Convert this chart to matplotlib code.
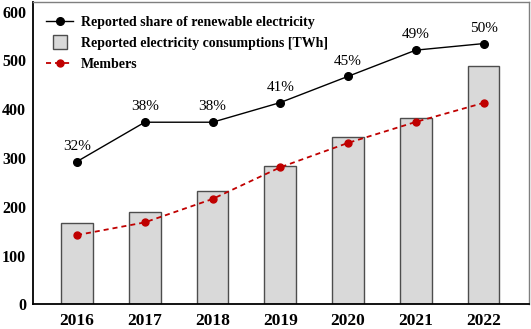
import matplotlib
matplotlib.use("Agg")
import matplotlib.pyplot as plt
from matplotlib.lines import Line2D
import numpy as np

years = ["2016", "2017", "2018", "2019", "2020", "2021", "2022"]
consumption_twh = [167, 190, 232, 284, 344, 383, 489]
renewable_share = [32, 38, 38, 41, 45, 49, 50]
members = [142, 168, 216, 281, 331, 374, 413]

plt.rcParams["font.family"] = ["Liberation Serif", "DejaVu Serif"]

fig = plt.figure(figsize=(5.31, 3.29), dpi=100)
ax = fig.add_axes([0.0621, 0.075, 0.934, 0.919])
x = np.arange(len(years))

# consumption bars
ax.bar(x, consumption_twh, width=0.47, color="#d9d9d9", edgecolor="#4d4d4d",
       linewidth=1.0, zorder=2)

# members, red dashed
red_dash = (0, (2.8, 2.2))
ax.plot(x, members, color="#c00000", linestyle=red_dash, linewidth=1.3,
        marker="o", markersize=5, zorder=4)

ax.set_xlim(-0.65, 6.67)
ax.set_ylim(0, 620)
ax.set_yticks(range(0, 601, 100))
ax.set_xticks(x)
ax.set_xticklabels(years)
ax.tick_params(axis="both", length=0)
ax.tick_params(axis="y", pad=5, labelsize=11.5)
ax.tick_params(axis="x", pad=6, labelsize=12.5)
for lab in ax.get_xticklabels() + ax.get_yticklabels():
    lab.set_fontweight("bold")

for side in ["top", "right"]:
    ax.spines[side].set_color("#7f7f7f")
    ax.spines[side].set_linewidth(1.0)
for side in ["left", "bottom"]:
    ax.spines[side].set_color("black")
    ax.spines[side].set_linewidth(1.3)

# share of renewables on its own hidden scale
ax2 = ax.twinx()
ax2.set_ylim(10.21, 56.35)
ax2.axis("off")
ax2.plot(x, renewable_share, color="black", linewidth=1.0, marker="o",
         markersize=5.5, zorder=5)
for xi, s in zip(x, renewable_share):
    ax2.annotate(f"{s}%", (xi, s), xytext=(0, 11), textcoords="offset points",
                 ha="center", va="center", fontsize=11)

handles = [
    Line2D([], [], color="black", linewidth=1.0, marker="o", markersize=5.5),
    Line2D([], [], linestyle="none", marker="s", markersize=9.5,
           markerfacecolor="#d9d9d9", markeredgecolor="#4d4d4d"),
    Line2D([], [], color="#c00000", linestyle=red_dash, linewidth=1.3,
           marker="o", markersize=5),
]
labels = ["Reported share of renewable electricity",
          "Reported electricity consumptions [TWh]",
          "Members"]
ax2.legend(handles, labels, loc="upper left", bbox_to_anchor=(0.006, 0.985),
           frameon=False, prop={"weight": "bold", "size": 10},
           handlelength=2.0, handletextpad=0.55, labelspacing=0.58,
           borderaxespad=0.3)

fig.savefig("out.png", dpi=100)
